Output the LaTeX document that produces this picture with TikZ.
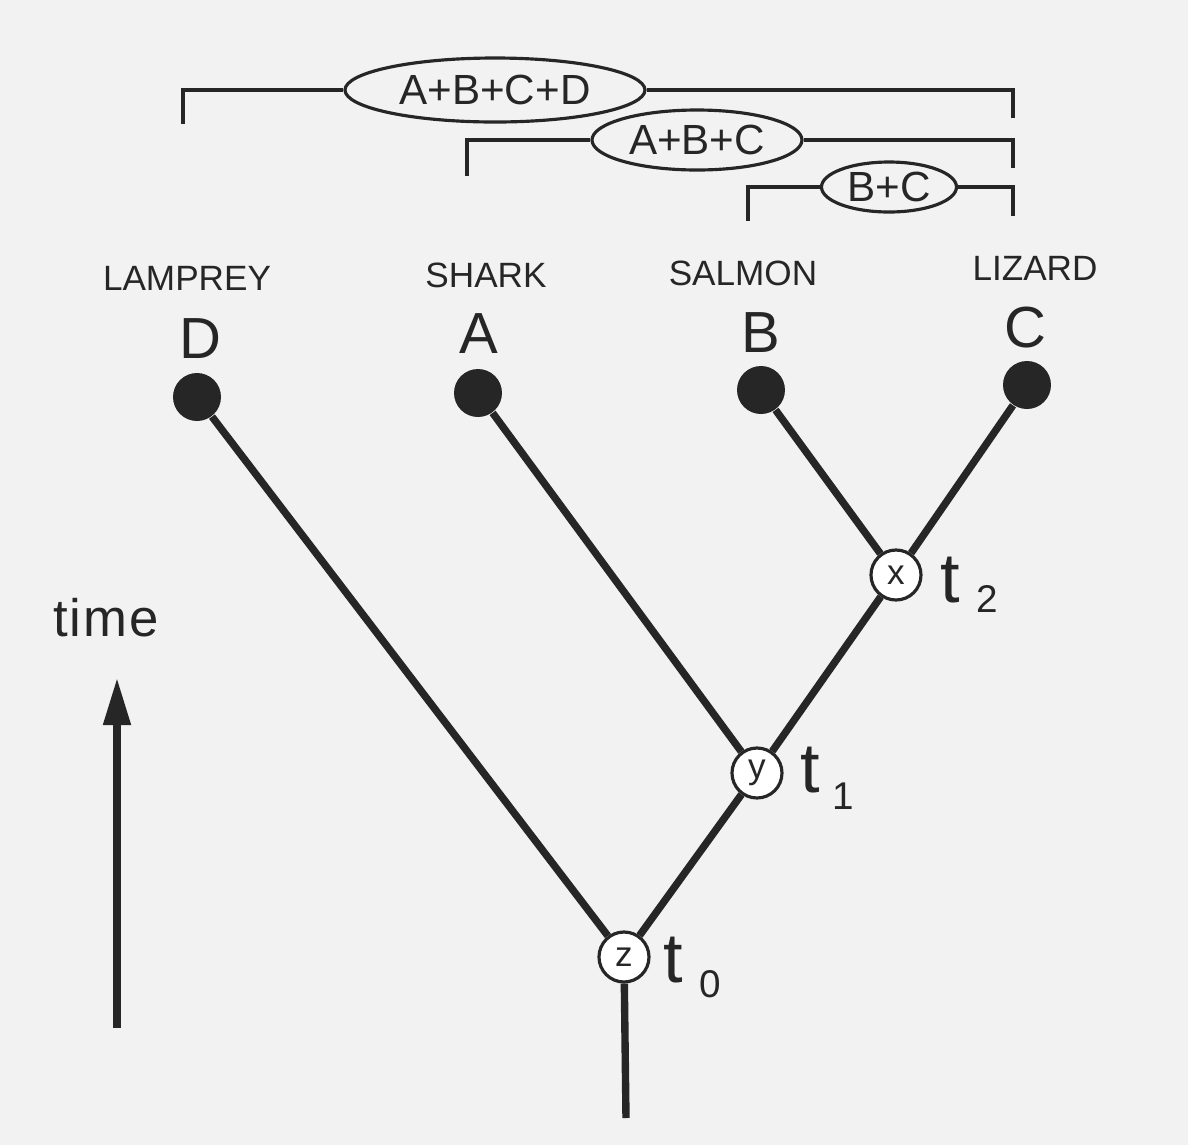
\documentclass[tikz,border=0pt]{standalone}
\usepackage{fontspec}
\setmainfont{Liberation Sans}
\usetikzlibrary{arrows.meta,shapes.geometric}
\begin{document}
\begin{tikzpicture}[
  ink/.style={black!85},
  branch/.style={ink, line width=2.1pt},
  bracket/.style={ink, line width=1.3pt},
  grp/.style={ellipse, draw=black!85, line width=0.9pt, inner sep=0pt, font=\fontsize{12}{14}\selectfont, text=black!85},
  leaf/.style={circle, fill=black!85, inner sep=0pt, minimum size=0.48cm},
  split/.style={circle, draw=black!85, fill=white, line width=0.9pt, inner sep=0pt, minimum size=0.5cm, font=\fontsize{10}{12}\selectfont, text=black!85},
  taxon/.style={anchor=base, inner sep=0pt, font=\fontsize{10}{12}\selectfont, text=black!85},
  letter/.style={anchor=base, inner sep=0pt, font=\fontsize{16.5}{19}\selectfont, text=black!85},
  tlab/.style={anchor=base west, inner sep=0pt, font=\fontsize{20}{22}\selectfont, text=black!85}
]
\fill[black!5] (0,0) rectangle (11.88,-11.45);
\useasboundingbox (0,0) rectangle (11.88,-11.45);

% group brackets
\node[grp, minimum width=3.0cm, minimum height=0.64cm] (e1) at (4.95,-0.90) {A+B+C+D};
\node[grp, minimum width=2.1cm, minimum height=0.60cm] (e2) at (6.97,-1.40) {A+B+C};
\node[grp, minimum width=1.35cm, minimum height=0.50cm] (e3) at (8.89,-1.87) {B+C};
\coordinate (l1) at (1.83,-1.24);
\coordinate (r1) at (10.13,-1.18);
\coordinate (l2) at (4.67,-1.76);
\coordinate (r2) at (10.13,-1.68);
\coordinate (l3) at (7.48,-2.21);
\coordinate (r3) at (10.13,-2.16);
\draw[bracket] (l1) |- (e1.west);
\draw[bracket] (e1.east) -| (r1);
\draw[bracket] (l2) |- (e2.west);
\draw[bracket] (e2.east) -| (r2);
\draw[bracket] (l3) |- (e3.west);
\draw[bracket] (e3.east) -| (r3);

% taxon names and letters
\node[taxon] (nD) at (1.87,-2.90) {LAMPREY};
\node[taxon] (nA) at (4.86,-2.87) {SHARK};
\node[taxon] (nB) at (7.43,-2.85) {SALMON};
\node[taxon] (nC) at (10.35,-2.80) {LIZARD};
\node[letter] (tD) at (2.00,-3.58) {D};
\node[letter] (tA) at (4.79,-3.53) {A};
\node[letter] (tB) at (7.61,-3.52) {B};
\node[letter] (tC) at (10.25,-3.47) {C};

% tree
\node[leaf] (D) at (1.97,-3.97) {};
\node[leaf] (A) at (4.78,-3.93) {};
\node[leaf] (B) at (7.61,-3.90) {};
\node[leaf] (C) at (10.27,-3.85) {};
\node[split] (x) at (8.96,-5.75) {x};
\node[split] (y) at (7.57,-7.73) {y};
\node[split] (z) at (6.24,-9.57) {z};
\coordinate (root) at (6.26,-11.18);
\draw[branch] (B) -- (x);
\draw[branch] (C) -- (x);
\draw[branch] (A) -- (y);
\draw[branch] (x) -- (y);
\draw[branch] (D) -- (z);
\draw[branch] (y) -- (z);
\draw[branch] (z) -- (root);

% time labels
\node[tlab] (t2) at (9.40,-6.02) {t\hspace{4.5pt}\raisebox{-3.1pt}{\fontsize{11}{12}\selectfont 2}};
\node[tlab] (t1) at (8.00,-7.92) {t\hspace{3.5pt}\raisebox{-5pt}{\fontsize{11}{12}\selectfont 1}};
\node[tlab] (t0) at (6.63,-9.82) {t\hspace{4.5pt}\raisebox{-4.5pt}{\fontsize{11}{12}\selectfont 0}};

% time axis
\node[anchor=base, inner sep=0pt, font=\fontsize{15}{18}\selectfont, text=black!85] (time) at (1.06,-6.36) {t\kern0.5pt i\kern0.5pt m\kern0.5pt e};
\coordinate (tbot) at (1.17,-10.28);
\coordinate (ttop) at (1.17,-6.78);
\draw[ink, line width=2pt, -{Triangle[length=13.4pt, width=7.5pt]}] (tbot) -- (ttop);
\end{tikzpicture}
\end{document}
